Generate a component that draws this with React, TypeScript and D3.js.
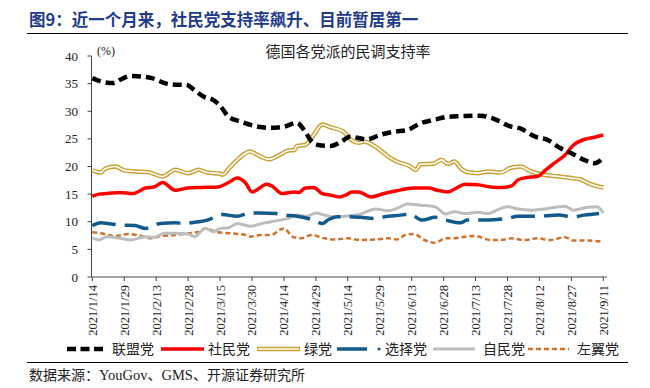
import React from "react";
import * as d3 from "d3";

// ---------- data ----------
const startDate = new Date(2021, 0, 14);
const endDate = new Date(2021, 8, 11);
const xTickLabels = [
  "2021/1/14", "2021/1/29", "2021/2/13", "2021/2/28", "2021/3/15", "2021/3/30",
  "2021/4/14", "2021/4/29", "2021/5/14", "2021/5/29", "2021/6/13", "2021/6/28",
  "2021/7/13", "2021/7/28", "2021/8/12", "2021/8/27", "2021/9/11",
];
const yTicks = [0, 5, 10, 15, 20, 25, 30, 35, 40];
const seriesNames = ["联盟党", "社民党", "绿党", "选择党", "自民党", "左翼党"];

// [days since 2021/1/14, support %]
const cdu: [number, number][] = [[0,36.0],[4,35.4],[10,35.1],[13,35.7],[18,36.4],[23,36.3],[28,36.0],[34,35.1],[39,34.8],[44,34.8],[48,33.8],[53,32.5],[56,32.2],[60,31.0],[64,29.0],[70,28.1],[78,27.2],[84,27.0],[90,27.2],[96,27.9],[100,26.3],[103,24.5],[106,23.9],[112,23.7],[117,24.5],[121,25.4],[129,24.9],[135,25.7],[142,26.3],[148,26.6],[154,27.8],[161,28.5],[167,29.0],[173,29.1],[182,29.2],[190,28.4],[196,27.3],[201,26.9],[208,25.4],[214,24.8],[219,23.5],[225,22.4],[231,21.2],[236,20.6],[240,21.6]];
const spd: [number, number][] = [[0,14.6],[3,15.0],[7,15.1],[13,15.3],[19,15.1],[25,16.1],[29,16.3],[33,17.1],[39,15.7],[45,16.1],[51,16.2],[59,16.3],[64,17.1],[68,17.9],[72,17.0],[75,15.4],[82,16.8],[85,16.3],[89,15.1],[95,15.4],[97,15.3],[100,16.1],[104,16.2],[108,15.1],[112,14.8],[116,14.5],[119,14.8],[122,15.4],[125,15.4],[131,14.5],[137,15.1],[143,15.6],[151,16.1],[158,16.1],[162,15.7],[167,15.4],[171,16.1],[175,16.8],[181,16.7],[187,16.3],[192,16.2],[197,16.5],[200,17.6],[204,18.0],[209,18.2],[213,19.4],[217,20.6],[222,22.1],[226,23.9],[231,24.9],[236,25.3],[240,25.7]];
const greens: [number, number][] = [[0,19.3],[4,18.9],[6,19.6],[11,20.0],[15,19.3],[20,19.1],[26,19.0],[33,18.2],[39,19.4],[45,18.8],[50,19.4],[54,18.9],[60,18.7],[61,18.5],[65,20.0],[69,21.5],[74,22.7],[79,21.8],[83,21.3],[88,22.1],[92,22.9],[95,23.0],[96,23.7],[100,23.9],[104,25.7],[108,27.6],[112,27.1],[118,26.3],[121,25.0],[125,24.3],[128,24.5],[133,23.6],[139,21.8],[143,20.9],[149,20.1],[152,19.4],[154,20.4],[160,20.5],[164,21.2],[167,20.5],[170,20.9],[173,19.7],[176,19.0],[181,18.8],[186,19.1],[192,18.9],[196,19.7],[201,20.0],[206,19.1],[212,18.5],[219,18.2],[225,17.9],[229,17.7],[234,16.8],[240,16.2]];
const afd: [number, number][] = [[0,9.3],[4,9.8],[7,9.7],[13,9.4],[20,9.3],[25,8.8],[32,9.7],[39,9.8],[43,9.7],[50,10.0],[54,10.3],[58,10.9],[61,11.3],[68,11.0],[74,11.6],[79,11.6],[86,11.5],[91,11.2],[96,11.0],[104,10.3],[108,9.7],[111,10.4],[115,10.9],[121,10.9],[126,10.8],[132,10.6],[139,11.0],[145,11.2],[149,11.4],[155,10.3],[161,10.8],[166,10.3],[173,9.8],[176,10.3],[182,10.3],[190,10.4],[195,10.6],[200,11.0],[208,11.0],[219,11.2],[226,10.9],[231,11.2],[238,11.5]];
const fdp: [number, number][] = [[0,7.1],[3,6.7],[7,7.3],[13,7.0],[18,6.7],[25,7.3],[29,7.2],[34,7.9],[40,7.9],[45,7.8],[48,7.3],[53,8.8],[57,8.2],[60,8.8],[64,8.9],[68,9.7],[74,9.2],[81,9.8],[87,10.2],[92,10.6],[96,11.2],[101,11.0],[105,11.6],[109,11.2],[114,10.9],[119,11.0],[126,11.4],[133,12.3],[139,12.0],[143,12.4],[148,13.2],[154,13.0],[161,12.7],[166,11.4],[170,11.8],[175,11.5],[181,11.7],[186,11.5],[190,12.1],[195,12.7],[200,12.3],[206,12.1],[212,12.3],[219,12.7],[222,12.8],[226,12.1],[232,12.6],[237,12.7],[240,11.6]];
const linke: [number, number][] = [[0,8.1],[4,7.9],[11,7.4],[17,7.8],[21,7.6],[28,7.0],[32,7.4],[39,7.6],[45,7.9],[50,8.2],[53,8.8],[59,8.1],[65,7.9],[72,7.6],[74,7.3],[79,7.6],[84,7.6],[88,8.5],[90,8.8],[94,7.3],[98,7.0],[103,7.6],[109,7.0],[114,6.8],[120,7.0],[126,6.7],[133,6.8],[139,7.0],[143,6.8],[147,7.6],[151,7.8],[156,6.7],[161,6.2],[166,7.0],[170,7.0],[175,7.3],[180,7.4],[187,6.7],[192,6.7],[197,7.0],[203,6.7],[209,7.0],[215,6.7],[222,7.2],[226,6.6],[232,6.6],[240,6.4]];

// ---------- layout ----------
const W = 650, H = 388;
const plotLeft = 91.5, plotTop = 56, plotBottom = 277;
const xStart = 92.3, xEnd = 603.3;
const serif = "'Liberation Serif', 'Times New Roman', serif";
const cjk = "'Noto Sans CJK SC', sans-serif";

const x = d3.scaleTime().domain([startDate, endDate]).range([xStart, xEnd]);
const y = d3.scaleLinear().domain([0, 40]).range([plotBottom, plotTop]);
const toDate = (d: number) => d3.timeDay.offset(startDate, d);
const line = d3
  .line<[number, number]>()
  .x((p) => x(toDate(p[0])))
  .y((p) => y(p[1]))
  .curve(d3.curveMonotoneX);

const GOLD = "#C9A032";
const BLUE = "#135A8C";
const ORANGE = "#D2702A";
const GRAY = "#BDBDBD";

export default function App() {
  const tickDates = xTickLabels.map((s) => {
    const [yy, mm, dd] = s.split("/").map(Number);
    return new Date(yy, mm - 1, dd);
  });
  const legendY = 349;
  const legend = [
    { x1: 67, x2: 104, tx: 112 },
    { x1: 161, x2: 204, tx: 208 },
    { x1: 257, x2: 300, tx: 304 },
    { x1: 337, x2: 367, tx: 385 },
    { x1: 433, x2: 475, tx: 483 },
    { x1: 528, x2: 569, tx: 577 },
  ];
  return (
    <svg
      width={W}
      height={H}
      style={{ position: "absolute", left: 0, top: 0, background: "#fff" }}
    >
      {/* header */}
      <text x={29} y={26} fontFamily={cjk} fontWeight="bold" fontSize={16.5} fill="#1F3B8A">
        图9：近一个月来，社民党支持率飙升、目前暂居第一
      </text>
      <line x1={27} x2={628} y1={33.5} y2={33.5} stroke="#000" strokeWidth={1} />

      <text x={348} y={57} textAnchor="middle" fontFamily={cjk} fontSize={15} fill="#222">
        德国各党派的民调支持率
      </text>
      <text x={97} y={55} fontFamily={serif} fontSize={12} fill="#222">(%)</text>

      {/* y axis */}
      <line x1={plotLeft} x2={plotLeft} y1={plotTop} y2={plotBottom} stroke="#444" strokeWidth={1} />
      {yTicks.map((t) => (
        <g key={t}>
          <line x1={plotLeft - 4} x2={plotLeft} y1={y(t)} y2={y(t)} stroke="#444" />
          <text x={78} y={y(t) + 4.5} textAnchor="end" fontFamily={serif} fontSize={13} fill="#222">
            {t}
          </text>
        </g>
      ))}

      {/* x axis */}
      <line x1={plotLeft} x2={607} y1={plotBottom} y2={plotBottom} stroke="#444" strokeWidth={1} />
      {tickDates.map((d, i) => (
        <g key={i}>
          <line x1={x(d)} x2={x(d)} y1={plotBottom} y2={plotBottom + 4} stroke="#444" />
          <text
            transform={`translate(${x(d) + 4.5},${plotBottom + 8}) rotate(-90)`}
            textAnchor="end"
            fontFamily={serif}
            fontSize={12.5}
            fill="#222"
          >
            {xTickLabels[i]}
          </text>
        </g>
      ))}

      {/* series */}
      <path d={line(linke) || ""} fill="none" stroke={ORANGE} strokeWidth={2.5} strokeDasharray="5,3" />
      <path d={line(fdp) || ""} fill="none" stroke={GRAY} strokeWidth={3} />
      <path d={line(afd) || ""} fill="none" stroke={BLUE} strokeWidth={3.5} strokeDasharray="24,9" />
      <path d={line(greens) || ""} fill="none" stroke={GOLD} strokeWidth={4.5} />
      <path d={line(greens) || ""} fill="none" stroke="#fff" strokeWidth={1.6} />
      <path d={line(spd) || ""} fill="none" stroke="#FF0000" strokeWidth={3.5} />
      <path d={line(cdu) || ""} fill="none" stroke="#000" strokeWidth={4.5} strokeDasharray="9,5" />

      {/* legend */}
      <line x1={legend[0].x1} x2={legend[0].x2} y1={legendY} y2={legendY} stroke="#000" strokeWidth={4.5} strokeDasharray="9,4.5" />
      <line x1={legend[1].x1} x2={legend[1].x2} y1={legendY} y2={legendY} stroke="#FF0000" strokeWidth={3.5} />
      <line x1={legend[2].x1} x2={legend[2].x2} y1={legendY} y2={legendY} stroke={GOLD} strokeWidth={4.5} />
      <line x1={legend[2].x1 + 1} x2={legend[2].x2 - 1} y1={legendY} y2={legendY} stroke="#fff" strokeWidth={1.6} />
      <line x1={legend[3].x1} x2={legend[3].x2} y1={legendY} y2={legendY} stroke={BLUE} strokeWidth={3.5} />
      <circle cx={379} cy={legendY} r={1.6} fill={BLUE} />
      <line x1={legend[4].x1} x2={legend[4].x2} y1={legendY} y2={legendY} stroke={GRAY} strokeWidth={3} />
      <line x1={legend[5].x1} x2={legend[5].x2} y1={legendY} y2={legendY} stroke={ORANGE} strokeWidth={2.5} strokeDasharray="5,3" />
      {seriesNames.map((n, i) => (
        <text key={n} x={legend[i].tx} y={legendY + 5} fontFamily={cjk} fontSize={14} fill="#222">
          {n}
        </text>
      ))}

      {/* footer */}
      <line x1={27} x2={628} y1={362.5} y2={362.5} stroke="#000" strokeWidth={1} />
      <text x={29} y={380} fontFamily={cjk} fontSize={14} fill="#222">
        数据来源：<tspan fontFamily={serif} fontSize={14.5}>YouGov</tspan>、<tspan fontFamily={serif} fontSize={14.5}>GMS</tspan>、开源证券研究所
      </text>
    </svg>
  );
}
